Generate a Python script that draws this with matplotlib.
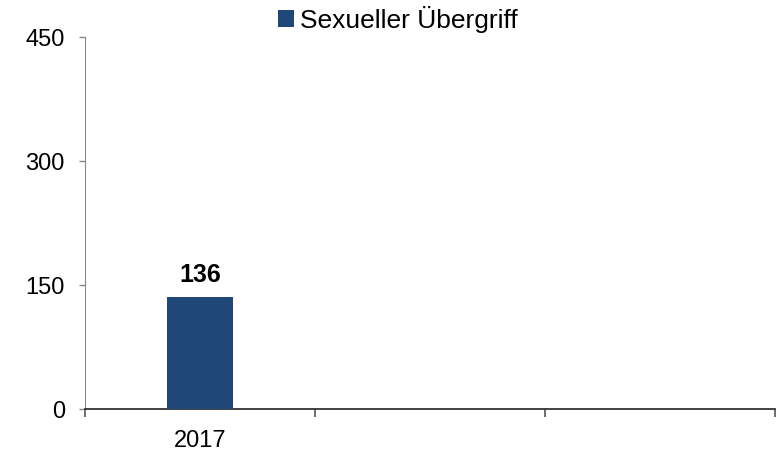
import numpy as np
import matplotlib.pyplot as plt

plt.rcParams['font.family'] = ['Liberation Sans', 'DejaVu Sans']

years = ['2017', '2018', '2019']
values = [136, None, None]
series_name = 'Sexueller Übergriff'
yticks = [0, 150, 300, 450]

fig = plt.figure(figsize=(7.83, 4.54), dpi=100)
ax = fig.add_axes([85/783, 1-409/454, 690/783, 372/454])

x = np.arange(len(years))
vals = [v if v is not None else 0 for v in values]
bars = ax.bar(x[:1], vals[:1], width=0.287, color='#1f4778', label=series_name, zorder=3)
for xi, v in zip(x, values):
    if v is not None:
        ax.text(xi, v + 12, str(v), ha='center', va='bottom', fontsize=18, fontweight='bold')

ax.set_xlim(-0.5, 2.5)
ax.set_ylim(0, 450)
ax.set_yticks(yticks)
ax.set_yticklabels([str(t) for t in yticks], fontsize=17)
ax.set_xticks([-0.5, 0.5, 1.5, 2.5])
ax.set_xticklabels([])
ax.set_xticks([0], minor=True)
ax.set_xticklabels(['2017'], minor=True, fontsize=17)
ax.tick_params(axis='x', which='minor', length=0, pad=15)
ax.tick_params(axis='x', which='major', length=6, color='#555555', width=1.2)
ax.tick_params(axis='y', length=4.5, color='#888888', width=1, pad=10)

for s in ['top', 'right']:
    ax.spines[s].set_visible(False)
ax.spines['left'].set_color('#888888')
ax.spines['bottom'].set_color('#222222')
ax.spines['bottom'].set_linewidth(1.2)

fig.legend(loc='upper center', bbox_to_anchor=(0.508, 1.04), frameon=False, fontsize=19,
           handlelength=0.6, handleheight=0.6, handletextpad=0.25)

fig.savefig('out.png', dpi=100)
